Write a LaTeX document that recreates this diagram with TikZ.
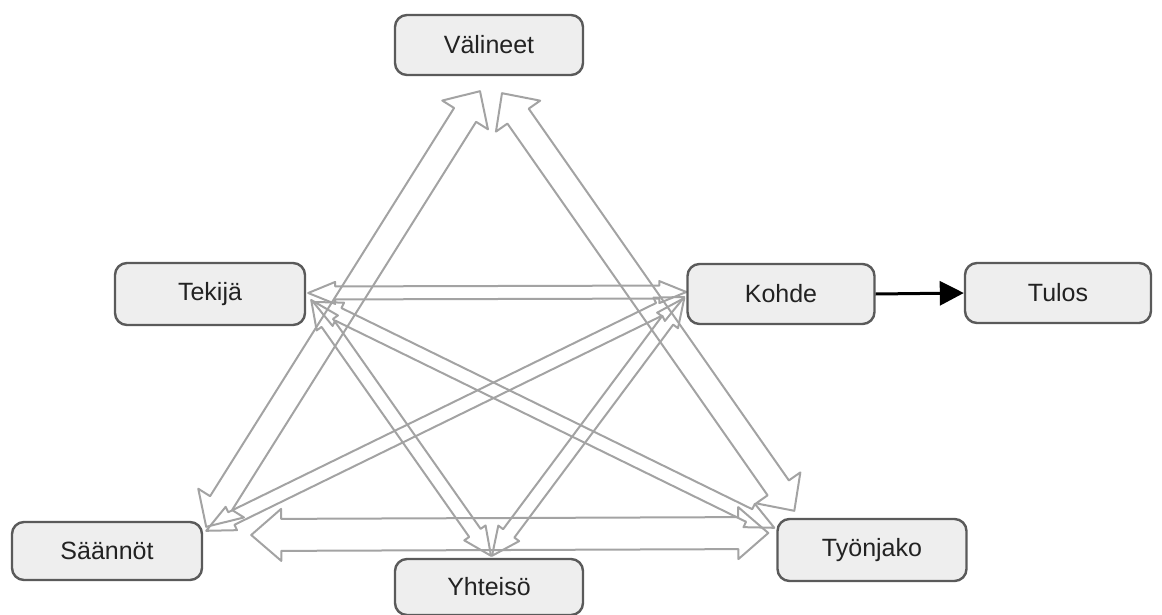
\documentclass[tikz,border=0pt]{standalone}
\usepackage{fontspec}
\setmainfont{Liberation Sans}
\usetikzlibrary{calc,arrows.meta,backgrounds}
\definecolor{boxfill}{HTML}{EEEEEE}
\definecolor{boxline}{HTML}{5A5A5A}
\definecolor{arrline}{HTML}{A3A3A3}
\definecolor{txt}{HTML}{222222}
\tikzset{
  box/.style={draw=boxline, line width=2.4pt, fill=boxfill, rounded corners=12pt,
    minimum height=60pt, minimum width=188pt, inner sep=0pt, text=txt,
    font=\fontsize{25}{30}\selectfont},
  blockline/.style={draw=arrline, line width=2pt, line join=round},
}
% hollow double-headed block arrow:
% #1 from, #2 to, #3 shaft half width, #4 head half width, #5 head length
\newcommand\blockarrow[5]{%
  \path ($(#1)!#5!(#2)$) coordinate (ba) ($(#2)!#5!(#1)$) coordinate (bb);
  \draw[blockline] (#1) -- ($(ba)!#4!90:(#2)$) -- ($(ba)!#3!90:(#2)$)
    -- ($(bb)!#3!-90:(#1)$) -- ($(bb)!#4!-90:(#1)$) -- (#2)
    -- ($(bb)!#4!90:(#1)$) -- ($(bb)!#3!90:(#1)$)
    -- ($(ba)!#3!-90:(#2)$) -- ($(ba)!#4!-90:(#2)$) -- cycle;
}
\begin{document}
\begin{tikzpicture}[x=1pt,y=-1pt]
\useasboundingbox (0,0) rectangle (1162,615);

% activity system elements
\node[box] (val) at (489,45) {Välineet};
\node[box, minimum height=62pt, minimum width=190pt] (tek) at (210,294) {Tekijä};
\node[box, minimum width=187pt] (koh) at (781,294) {Kohde};
\node[box, minimum width=186pt] (tul) at (1058,293) {Tulos};
\node[box, minimum height=58pt, minimum width=190pt] (saa) at (107,551) {Säännöt};
\node[box, minimum height=56pt] (yht) at (489,587) {Yhteisö};
\node[box, minimum height=62pt, minimum width=189pt] (tyo) at (872,550) {Työnjako};

% arrow end points next to the boxes
\coordinate (vl) at ($(val.south)+(-9,15)$);
\coordinate (vr) at ($(val.south)+(13,17)$);
\coordinate (sv) at ($(saa.north east)+(3,6)$);
\coordinate (sk) at ($(saa.north east)+(3,10)$);
\coordinate (sb) at ($(saa.east)+(48,-16)$);
\coordinate (tv) at ($(tyo.north west)+(18,-7)$);
\coordinate (tt) at ($(tyo.north west)+(-2,10)$);
\coordinate (tb) at ($(tyo.west)+(-8,-17)$);
\coordinate (ek) at ($(tek.east)+(2,-1)$);
\coordinate (ey) at ($(tek.east)+(5,6)$);
\coordinate (et) at ($(tek.east)+(7,8)$);
\coordinate (ke) at ($(koh.west)+(0,-2)$);
\coordinate (ks) at ($(koh.west)+(-2,3)$);
\coordinate (ky) at ($(koh.west)+(-2,4)$);
\coordinate (ye) at ($(yht.north)+(2,-2)$);
\coordinate (yk) at ($(yht.north)+(3,-2)$);

\begin{scope}[on background layer]
  \blockarrow{vl}{sv}{13pt}{27pt}{28pt}
  \blockarrow{vr}{tv}{13pt}{27pt}{28pt}
  \blockarrow{sb}{tb}{16pt}{26pt}{30pt}
  \blockarrow{ek}{ke}{6.5pt}{11pt}{27pt}
  \blockarrow{ey}{ye}{7pt}{13pt}{28pt}
  \blockarrow{et}{tt}{7pt}{13pt}{28pt}
  \blockarrow{ks}{sk}{7pt}{13pt}{28pt}
  \blockarrow{ky}{yk}{7pt}{13pt}{28pt}
\end{scope}

% outcome
\draw[line width=3pt, -{Triangle[length=24pt,width=24pt]}] (koh.east) -- (tul.west);
\end{tikzpicture}
\end{document}
